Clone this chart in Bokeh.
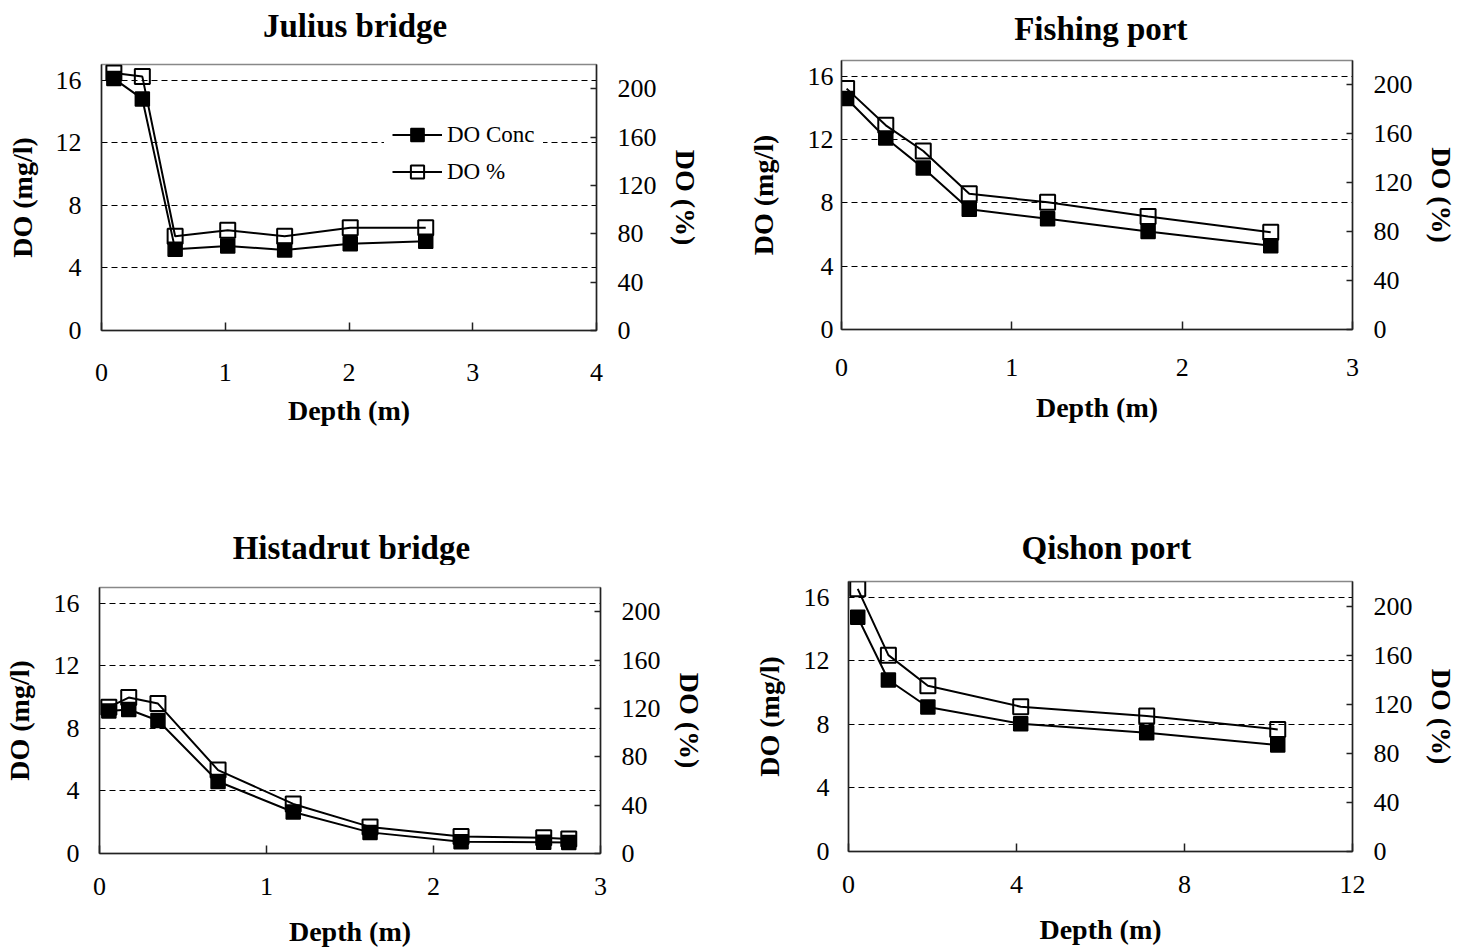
from bokeh.plotting import figure
from bokeh.models import Range1d, LinearAxis, FixedTicker, Legend, LegendItem
from bokeh.layouts import column, row
from bokeh.core.properties import value
from bokeh.embed import file_html
from bokeh.resources import INLINE

FONT = "Liberation Serif"

# ---------------- data ----------------
titles = ["Julius bridge", "Fishing port", "Histadrut bridge", "Qishon port"]

julius_depth = [0.10, 0.33, 0.595, 1.02, 1.48, 2.01, 2.62]
julius_conc = [16.1, 14.8, 5.2, 5.4, 5.15, 5.55, 5.7]
julius_pct = [213, 210, 78, 83, 78, 85, 85]

fishing_depth = [0.03, 0.26, 0.48, 0.75, 1.21, 1.80, 2.52]
fishing_conc = [14.6, 12.1, 10.2, 7.6, 7.0, 6.2, 5.3]
fishing_pct = [197, 167, 146, 111, 104, 92.5, 79.5]

histadrut_depth = [0.056, 0.175, 0.35, 0.71, 1.16, 1.62, 2.165, 2.66, 2.81]
histadrut_conc = [9.1, 9.2, 8.5, 4.6, 2.65, 1.35, 0.75, 0.72, 0.7]
histadrut_pct = [121, 129, 124, 69, 41, 22, 14, 13, 12]

qishon_depth = [0.22, 0.95, 1.89, 4.1, 7.1, 10.22]
qishon_conc = [14.75, 10.8, 9.1, 8.05, 7.47, 6.7]
qishon_pct = [214, 160, 135, 118, 110.5, 99.5]

left_ticks = [0, 4, 8, 12, 16]
grid_ticks = [4, 8, 12, 16]
right_ticks = [0, 40, 80, 120, 160, 200]
series_names = ["DO Conc", "DO %"]


def title_strip(text, W, H, cx, cy_from_top):
    t = figure(width=W, height=H, x_range=Range1d(0, W), y_range=Range1d(0, H),
               output_backend="svg", toolbar_location=None,
               x_axis_type=None, y_axis_type=None,
               min_border_left=0, min_border_right=0, min_border_top=0, min_border_bottom=0)
    t.outline_line_color = None
    t.xgrid.visible = False
    t.ygrid.visible = False
    t.border_fill_color = "white"
    t.text(x=[cx], y=[H - cy_from_top], text=[text], text_font=value(FONT),
           text_font_size="33px", text_font_style="bold", text_color="black",
           text_align="center", text_baseline="middle")
    return t


def make_panel(depth, conc, pct, xmax, xticks, W, H, bl, br, bt, bb,
               left_standoff, left_label_standoff,
               x_standoff, x_label_standoff, legend=False):
    p = figure(width=W, height=H, x_range=Range1d(0, xmax), y_range=Range1d(0, 17),
               output_backend="svg", toolbar_location=None,
               min_border_left=bl, min_border_right=br,
               min_border_top=bt, min_border_bottom=bb)

    p.background_fill_color = "white"
    p.border_fill_color = "white"
    p.outline_line_color = "#888888"
    p.outline_line_width = 1.5

    p.xgrid.visible = False
    p.ygrid.ticker = FixedTicker(ticks=grid_ticks)
    p.ygrid.grid_line_color = "black"
    p.ygrid.grid_line_dash = "6 4"
    p.ygrid.grid_line_width = 1

    p.extra_y_ranges = {"pct": Range1d(0, 220)}
    rax = LinearAxis(y_range_name="pct", axis_label="DO (%)")
    p.add_layout(rax, "right")

    xa = p.xaxis[0]
    xa.ticker = FixedTicker(ticks=xticks)
    xa.axis_label = "Depth (m)"
    xa.major_tick_in = 8
    xa.major_tick_out = 0
    xa.minor_tick_line_color = None
    xa.major_label_standoff = x_standoff
    xa.axis_label_standoff = x_label_standoff

    ya = p.yaxis[0]
    ya.ticker = FixedTicker(ticks=left_ticks)
    ya.axis_label = "DO (mg/l)"
    ya.major_tick_in = 0
    ya.major_tick_out = 0
    ya.minor_tick_line_color = None
    ya.major_label_standoff = left_standoff
    ya.axis_label_standoff = left_label_standoff

    rax.ticker = FixedTicker(ticks=right_ticks)
    rax.major_tick_in = 6
    rax.major_tick_out = 0
    rax.minor_tick_line_color = None
    rax.major_label_standoff = 21
    rax.axis_label_standoff = 10

    for ax in (xa, ya, rax):
        ax.axis_line_color = "#222222"
        ax.axis_line_width = 1.5
        ax.major_tick_line_color = "#222222"
        ax.major_tick_line_width = 1.5
        ax.major_label_text_font = FONT
        ax.major_label_text_font_size = "26px"
        ax.major_label_text_color = "black"
        ax.axis_label_text_font = FONT
        ax.axis_label_text_font_size = "28px"
        ax.axis_label_text_font_style = "bold"
        ax.axis_label_text_color = "black"

    l2 = p.line(depth, pct, y_range_name="pct", line_color="black", line_width=2)
    s2 = p.scatter(depth, pct, y_range_name="pct", marker="square", size=15,
                   fill_color=None, line_color="black", line_width=2)
    l1 = p.line(depth, conc, line_color="black", line_width=2)
    s1 = p.scatter(depth, conc, marker="square", size=14,
                   fill_color="black", line_color="black", line_width=1.5)

    if legend:
        lg = Legend(items=[LegendItem(label=series_names[0], renderers=[l1, s1]),
                           LegendItem(label=series_names[1], renderers=[l2, s2])],
                    location=(283, 134))
        lg.glyph_width = 50
        lg.glyph_height = 33
        lg.label_height = 33
        lg.spacing = 4
        lg.padding = 8
        lg.margin = 0
        lg.label_standoff = 5
        lg.border_line_alpha = 0
        lg.background_fill_color = "white"
        lg.background_fill_alpha = 1
        lg.label_text_font = FONT
        lg.label_text_font_size = "23px"
        lg.label_text_color = "black"
        p.add_layout(lg)
    return p


# top row: title strip 50 px + panel 425 px (frame tops at 64 / 60)
t1 = title_strip(titles[0], 730, 50, 374, 25)
t2 = title_strip(titles[1], 729, 50, 370, 28)
p1 = make_panel(julius_depth, julius_conc, julius_pct, 4, [0, 1, 2, 3, 4],
                730, 425, 101, 134, 14, 145, 20, 15, 33, 11, legend=True)
p2 = make_panel(fishing_depth, fishing_conc, fishing_pct, 3, [0, 1, 2, 3],
                729, 425, 111, 107, 10, 146, 8, 26, 29, 13)

# bottom row: title strip 90 px + panel 384 px (frame tops at 587 / 581)
t3 = title_strip(titles[2], 730, 90, 367, 72)
t4 = title_strip(titles[3], 729, 90, 373, 72)
p3 = make_panel(histadrut_depth, histadrut_conc, histadrut_pct, 3, [0, 1, 2, 3],
                730, 384, 95, 130, 22, 95, 20, 16, 24, 18)
p4 = make_panel(qishon_depth, qishon_conc, qishon_pct, 12, [0, 4, 8, 12],
                729, 384, 118, 105, 16, 98, 19, 16, 24, 18)

layout = column(row(column(t1, p1), column(t2, p2)),
                row(column(t3, p3), column(t4, p4)))

with open("out.html", "w") as f:
    f.write(file_html(layout, INLINE))
